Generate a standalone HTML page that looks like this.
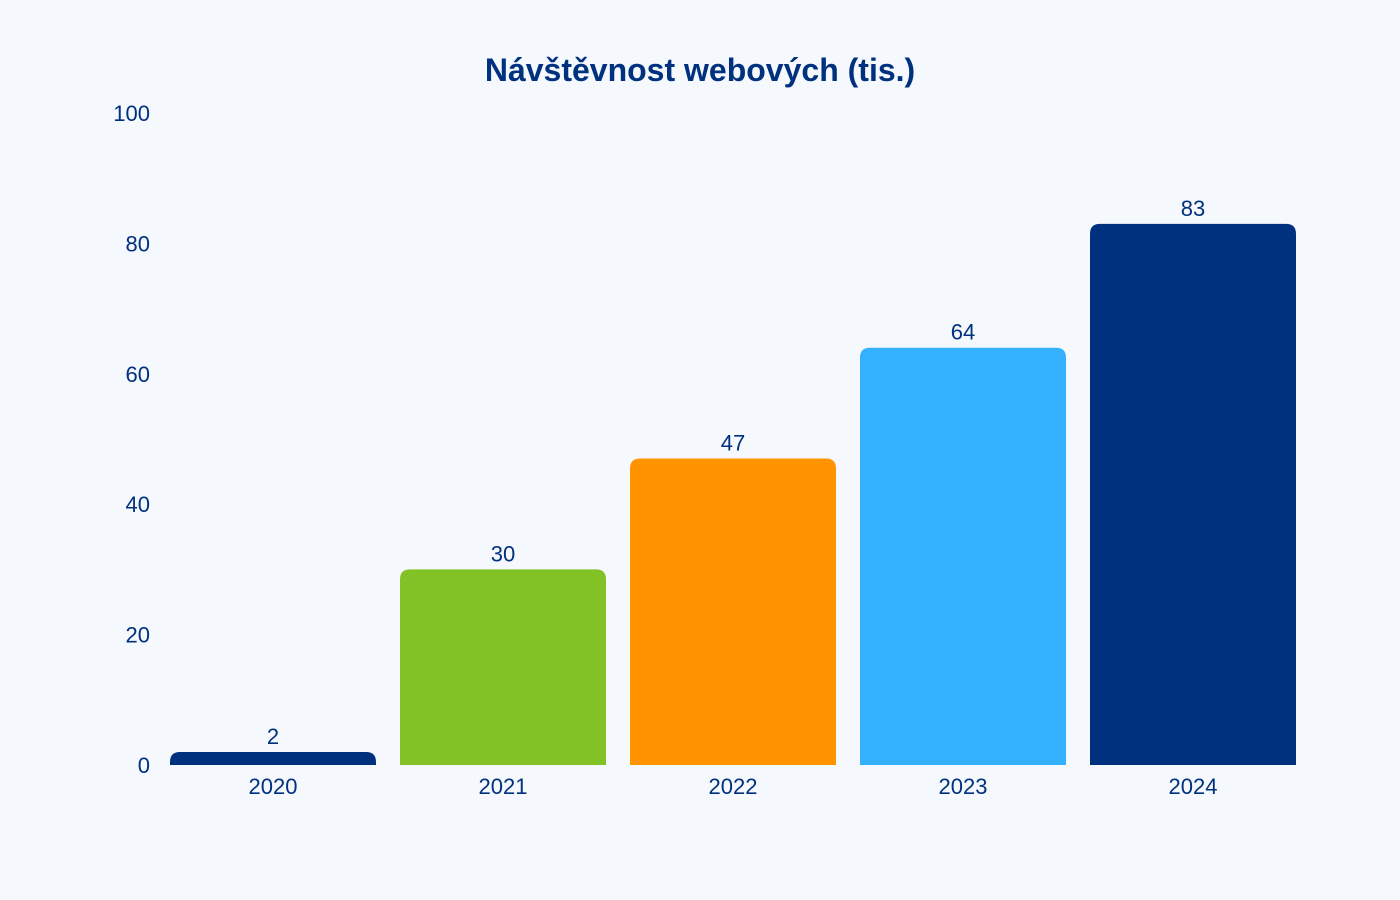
<!DOCTYPE html>
<html><head><meta charset="utf-8"><style>
body{margin:0;background:#f5f8fc;}
svg{display:block;font-family:"Liberation Sans",sans-serif;}
</style></head><body>
<svg id="chart" width="1400" height="900" viewBox="0 0 1400 900">
<rect width="1400" height="900" fill="#f5f8fc"/>
<text x="700" y="81" text-anchor="middle" font-size="32" font-weight="bold" fill="#00317f">Návštěvnost webových (tis.)</text>
<g id="yaxis"></g>
<g id="bars"></g>
<g id="xaxis"></g>
</svg>
<script>
const categories=["2020","2021","2022","2023","2024"];
const values=[2,30,47,64,83];
const colors=["#00317f","#82c226","#ff9300","#33b1ff","#00317f"];
const yTicks=[0,20,40,60,80,100];
const NS="http://www.w3.org/2000/svg";
const y0=765,y1=113,yMax=100,x0=158,slot=230,bw=206;
const y=v=>y0-(v/yMax)*(y0-y1);
const xc=i=>x0+slot*i+slot/2;
function mk(t,a){const e=document.createElementNS(NS,t);for(const k in a)e.setAttribute(k,a[k]);return e;}
const ya=document.getElementById('yaxis');
yTicks.forEach(t=>{
 const e=mk('text',{x:150,y:y(t)+8,'text-anchor':'end','font-size':22,fill:'#00317f'});
 
 
 e.textContent=t;ya.appendChild(e);
});
const bg=document.getElementById('bars'),xa=document.getElementById('xaxis');
categories.forEach((c,i)=>{
 const l=xc(i)-bw/2,r=l+bw,top=y(values[i]),h=y0-top,rad=Math.min(10,h);
 const d=`M${l},${y0}L${l},${top+rad}Q${l},${top} ${l+rad},${top}L${r-rad},${top}Q${r},${top} ${r},${top+rad}L${r},${y0}Z`;
 const p=mk('path',{d:d,fill:colors[i]});
 
 
 bg.appendChild(p);
 const v=mk('text',{x:xc(i),y:top-8,'text-anchor':'middle','font-size':22,fill:'#00317f'});
 
 
 v.textContent=values[i];bg.appendChild(v);
 const t=mk('text',{x:xc(i),y:794,'text-anchor':'middle','font-size':22,fill:'#00317f'});
 
 
 t.textContent=c;xa.appendChild(t);
});
</script>
</body></html>
